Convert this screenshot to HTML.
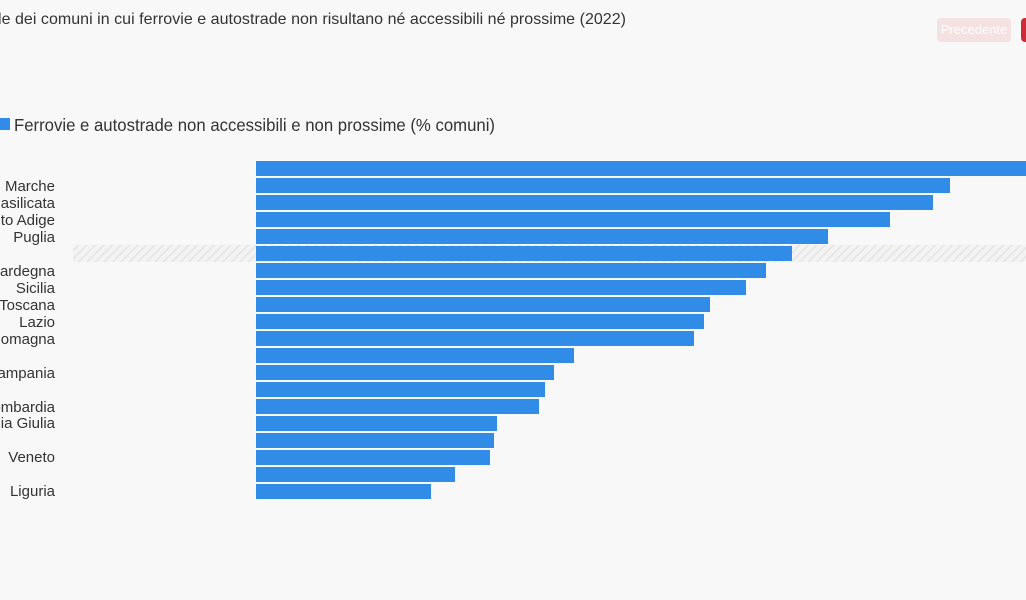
<!DOCTYPE html>
<html><head><meta charset="utf-8"><style>
html,body{margin:0;padding:0;background:#f8f8f8;width:1026px;height:600px;overflow:hidden}
svg{display:block}
</style></head><body>
<svg width="1026" height="600" xmlns="http://www.w3.org/2000/svg">
<defs><pattern id="h" width="6" height="6" patternUnits="userSpaceOnUse" patternTransform="rotate(45)"><rect width="6" height="6" fill="#f3f3f3"/><line x1="0" y1="0" x2="0" y2="6" stroke="#e4e4e4" stroke-width="3"/></pattern></defs>
<text x="-2" y="24" font-family="Liberation Sans, sans-serif" font-size="16" fill="#333" textLength="628">le dei comuni in cui ferrovie e autostrade non risultano né accessibili né prossime (2022)</text>
<rect x="937" y="18" width="74" height="24" rx="4" fill="#f4e1e2"/>
<text x="974" y="34" text-anchor="middle" font-family="Liberation Sans, sans-serif" font-size="13" fill="#fff">Precedente</text>
<rect x="1021" y="18" width="20" height="24" rx="4" fill="#cf2b36"/>
<rect x="0" y="118" width="10" height="12" fill="#318ce7"/>
<text x="14" y="131" font-family="'Liberation Sans',sans-serif" font-size="17.5" fill="#333" textLength="481" lengthAdjust="spacingAndGlyphs">Ferrovie e autostrade non accessibili e non prossime (% comuni)</text>
<rect x="73" y="245" width="953" height="17" fill="url(#h)"/>
<g fill="#318ce7">
<rect x="256" y="161" width="780" height="15"/>
<rect x="256" y="178" width="694" height="15"/>
<rect x="256" y="195" width="677" height="15"/>
<rect x="256" y="212" width="634" height="15"/>
<rect x="256" y="229" width="572" height="15"/>
<rect x="256" y="246" width="536" height="15"/>
<rect x="256" y="263" width="510" height="15"/>
<rect x="256" y="280" width="490" height="15"/>
<rect x="256" y="297" width="454" height="15"/>
<rect x="256" y="314" width="448" height="15"/>
<rect x="256" y="331" width="438" height="15"/>
<rect x="256" y="348" width="318" height="15"/>
<rect x="256" y="365" width="298" height="15"/>
<rect x="256" y="382" width="289" height="15"/>
<rect x="256" y="399" width="283" height="15"/>
<rect x="256" y="416" width="241" height="15"/>
<rect x="256" y="433" width="238" height="15"/>
<rect x="256" y="450" width="234" height="15"/>
<rect x="256" y="467" width="199" height="15"/>
<rect x="256" y="484" width="175" height="15"/>
</g>
<g font-family="'Liberation Sans',sans-serif" font-size="15" fill="#333" text-anchor="end">
<text x="55" y="191">Marche</text>
<text x="55" y="208">asilicata</text>
<text x="55" y="225">to Adige</text>
<text x="55" y="242">Puglia</text>
<text x="55" y="276">Sardegna</text>
<text x="55" y="293">Sicilia</text>
<text x="55" y="310">Toscana</text>
<text x="55" y="327">Lazio</text>
<text x="55" y="344">Romagna</text>
<text x="55" y="378">ampania</text>
<text x="55" y="412">ombardia</text>
<text x="55" y="428">zia Giulia</text>
<text x="55" y="462">Veneto</text>
<text x="55" y="496">Liguria</text>
</g>
</svg>
</body></html>
